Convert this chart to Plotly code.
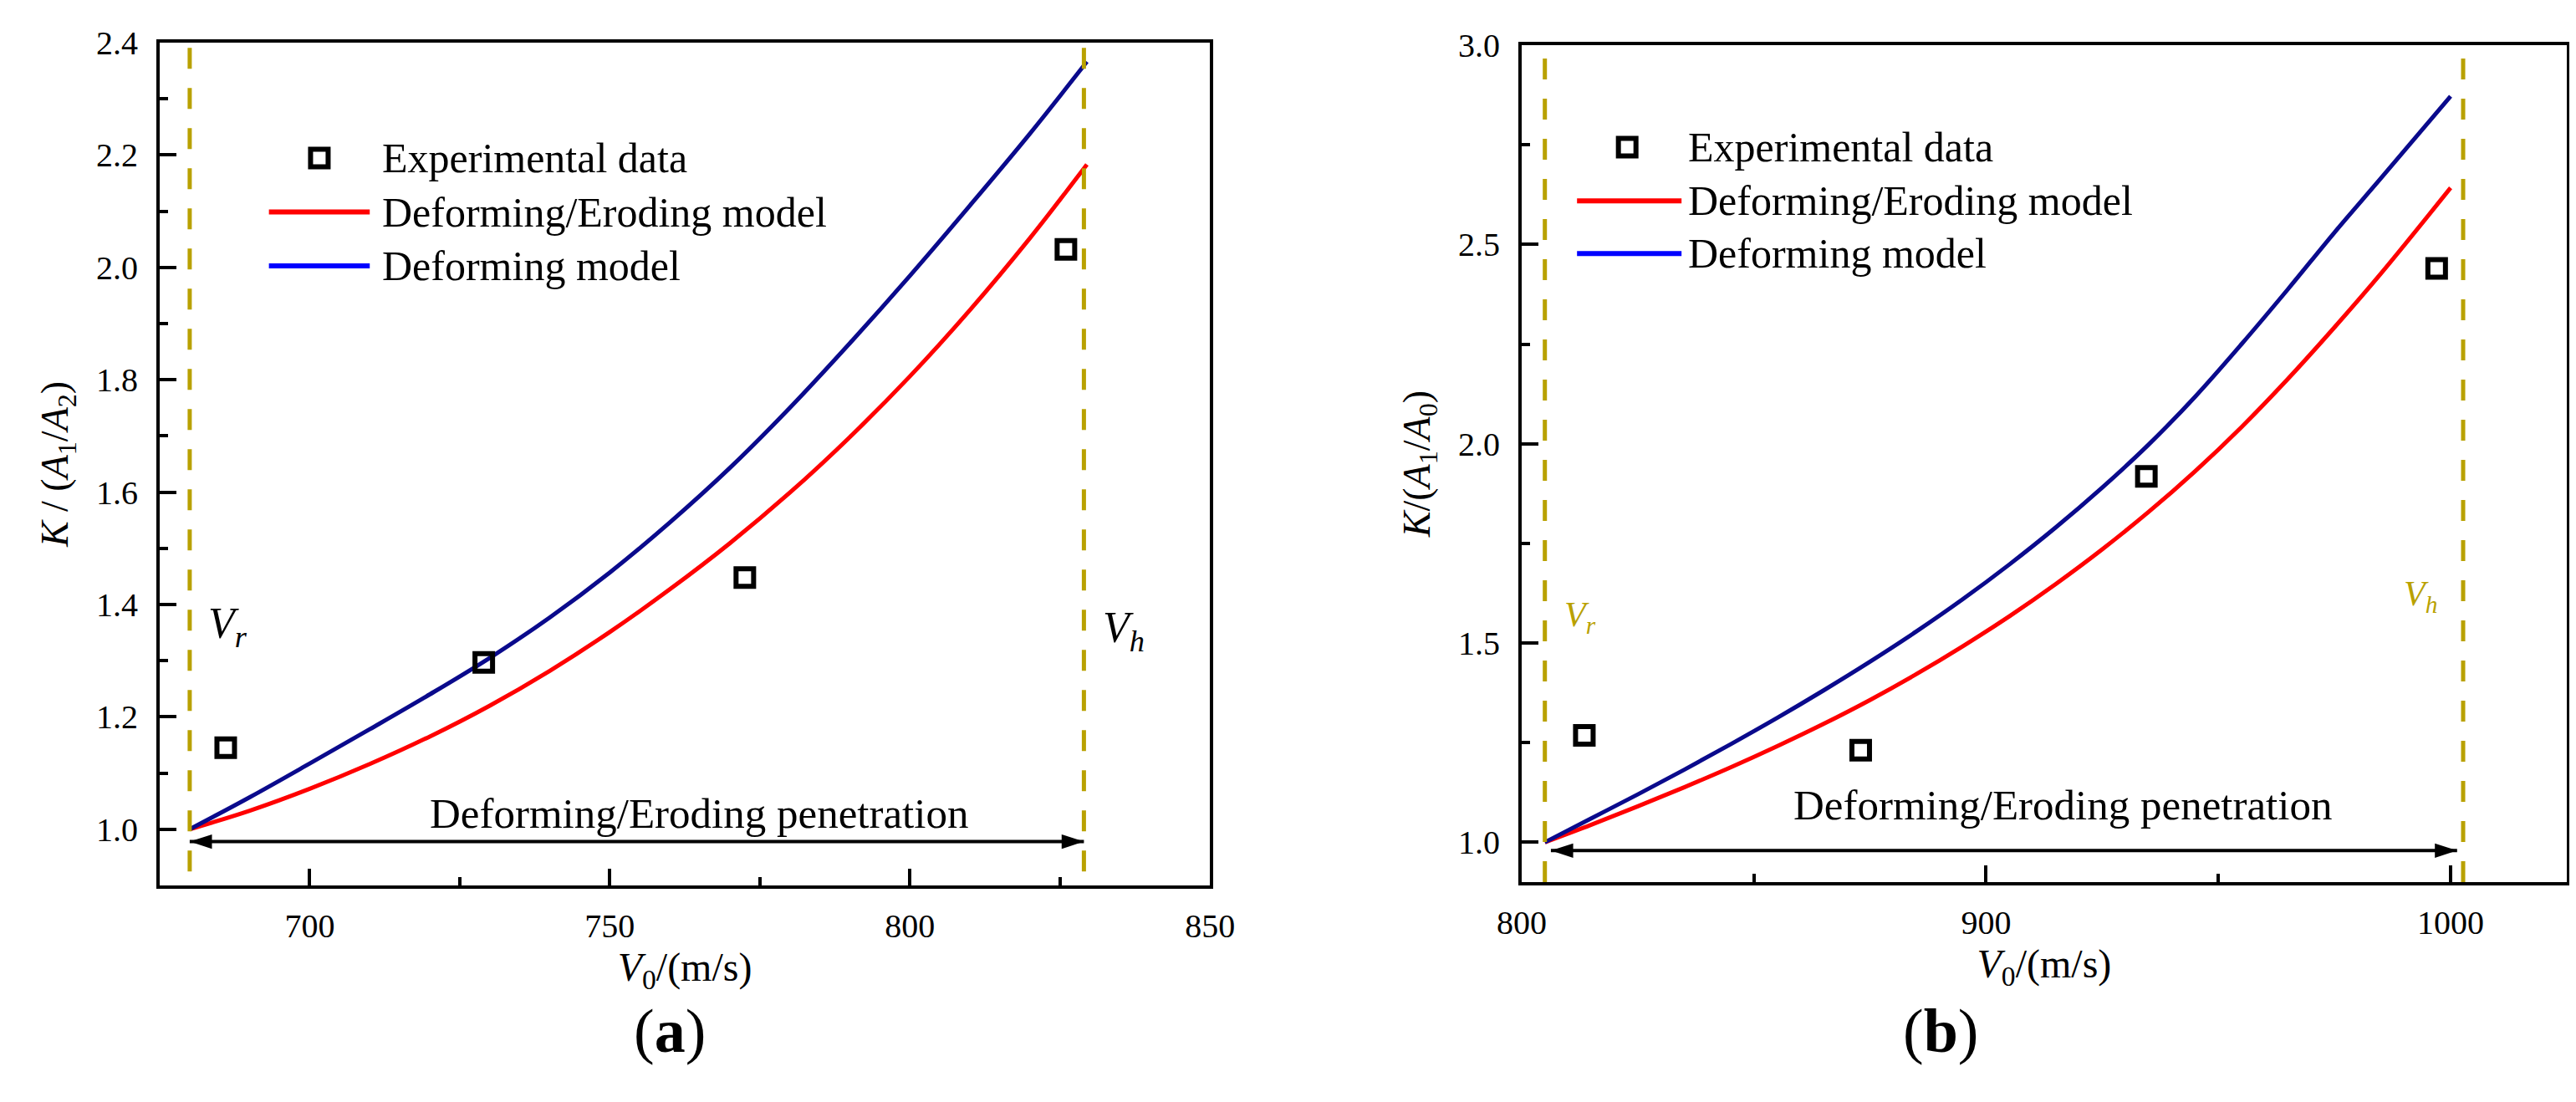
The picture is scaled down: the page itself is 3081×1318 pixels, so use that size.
import plotly.graph_objects as go

# ---------------- panel (a) ----------------
a_v = [680, 690, 700, 710, 720, 730, 740, 750, 760, 770, 780, 790, 800, 810, 820, 829.5]
a_deform = [1.000, 1.057, 1.117, 1.178, 1.240, 1.305, 1.377, 1.457, 1.546, 1.643,
            1.750, 1.865, 1.985, 2.110, 2.238, 2.366]
a_erode = [1.000, 1.033, 1.072, 1.116, 1.165, 1.220, 1.282, 1.351, 1.427, 1.509,
           1.599, 1.698, 1.806, 1.924, 2.052, 2.183]
a_exp_v = [686, 729, 772.5, 826]
a_exp_k = [1.145, 1.297, 1.448, 2.032]
a_vr, a_vh = 680, 829
a_arrow_v = [680, 829]
a_arrow_k = 0.978
a_xticks = [700, 750, 800, 850]
a_yticks = [1.0, 1.2, 1.4, 1.6, 1.8, 2.0, 2.2, 2.4]

# ---------------- panel (b) ----------------
b_v = [805, 815, 825, 835, 845, 855, 865, 875, 885, 895, 905, 915, 925, 935,
       945, 955, 965, 975, 985, 1000]
b_deform = [1.000, 1.060, 1.120, 1.182, 1.246, 1.312, 1.381, 1.453, 1.529, 1.610,
            1.697, 1.790, 1.890, 1.998, 2.118, 2.250, 2.388, 2.530, 2.666, 2.872]
b_erode = [1.000, 1.044, 1.090, 1.138, 1.188, 1.241, 1.297, 1.357, 1.422, 1.492,
           1.567, 1.648, 1.735, 1.829, 1.931, 2.042, 2.163, 2.292, 2.427, 2.642]
b_exp_v = [813.5, 873, 934.5, 997]
b_exp_k = [1.268, 1.231, 1.918, 2.440]
b_vr, b_vh = 805, 1002.7
b_arrow_v = [806.3, 1001.4]
b_arrow_k = 0.979
b_xticks = [800, 900, 1000]
b_yticks = [1.0, 1.5, 2.0, 2.5, 3.0]

legend_names = ["Experimental data", "Deforming/Eroding model", "Deforming model"]

FONT = "Liberation Serif"
OLIVE = "#B9A100"
NAVY = "#0A0A8C"
NBSP = "\u00a0"

fig = go.Figure()


def add_panel(xa, ya, v, deform, erode, exp_v, exp_k, arrow_v, arrow_k):
    fig.add_trace(go.Scatter(x=v, y=erode, mode="lines", line=dict(color="#FF0000", width=5, shape="spline"),
                             xaxis=xa, yaxis=ya, showlegend=False))
    fig.add_trace(go.Scatter(x=v, y=deform, mode="lines", line=dict(color=NAVY, width=5, shape="spline"),
                             xaxis=xa, yaxis=ya, showlegend=False))
    fig.add_trace(go.Scatter(x=exp_v, y=exp_k, mode="markers",
                             marker=dict(symbol="square-open", size=21, color="black", line=dict(width=6, color="black")),
                             xaxis=xa, yaxis=ya, showlegend=False))
    # double headed arrow
    fig.add_trace(go.Scatter(x=arrow_v, y=[arrow_k, arrow_k], mode="lines+markers",
                             line=dict(color="black", width=4),
                             marker=dict(symbol="arrow", size=28, color="black", angle=[-90, 90]),
                             xaxis=xa, yaxis=ya, showlegend=False))


add_panel("x", "y", a_v, a_deform, a_erode, a_exp_v, a_exp_k, a_arrow_v, a_arrow_k)
add_panel("x2", "y2", b_v, b_deform, b_erode, b_exp_v, b_exp_k, b_arrow_v, b_arrow_k)

shapes = []
for xr, yr, vals, ybot, ytop in [("x", "y", [a_vr, a_vh], 0.925, 2.4), ("x2", "y2", [b_vr, b_vh], 0.9, 3.0)]:
    for val in vals:
        shapes.append(dict(type="line", xref=xr, yref=yr, x0=val, x1=val, y0=ybot, y1=ytop,
                           line=dict(color=OLIVE, width=5, dash="25px,23px")))

annotations = []


def add_legend(xr, yr, sym_x, line_x0, line_x1, text_x, rows):
    xd, yd = xr + " domain", yr + " domain"
    shapes.append(dict(type="rect", xref=xd, yref=yd, xsizemode="pixel", ysizemode="pixel",
                       xanchor=sym_x, yanchor=rows[0], x0=-10.5, x1=10.5, y0=-10.5, y1=10.5,
                       line=dict(color="black", width=6), fillcolor="rgba(0,0,0,0)"))
    for r, col in zip(rows[1:], ["#FF0000", "#0000FF"]):
        shapes.append(dict(type="line", xref=xd, yref=yd, x0=line_x0, x1=line_x1, y0=r, y1=r,
                           line=dict(color=col, width=6)))
    for r, name in zip(rows, legend_names):
        annotations.append(dict(xref=xd, yref=yd, x=text_x, y=r, text=name, showarrow=False,
                                xanchor="left", yanchor="middle", font=dict(family=FONT, size=50, color="black")))


add_legend("x", "y", 0.152, 0.104, 0.200, 0.210, [0.863, 0.799, 0.735])
add_legend("x2", "y2", 0.101, 0.053, 0.153, 0.158, [0.878, 0.814, 0.751])

# region text and V labels
annotations += [
    dict(xref="x", yref="y", x=764.8, y=1.028, text="Deforming/Eroding penetration", showarrow=False,
         font=dict(family=FONT, size=51, color="black")),
    dict(xref="x2", yref="y2", x=916.4, y=1.094, text="Deforming/Eroding penetration", showarrow=False,
         font=dict(family=FONT, size=51, color="black")),
    dict(xref="x", yref="y", x=686.3, y=1.36, text="<i>V<sub>r</sub></i>", showarrow=False,
         font=dict(family=FONT, size=52, color="black")),
    dict(xref="x", yref="y", x=835.6, y=1.353, text="<i>V<sub>h</sub></i>", showarrow=False,
         font=dict(family=FONT, size=52, color="black")),
    dict(xref="x2", yref="y2", x=812.6, y=1.566, text="<i>V<sub>r</sub></i>", showarrow=False,
         font=dict(family=FONT, size=42, color=OLIVE)),
    dict(xref="x2", yref="y2", x=993.5, y=1.618, text="<i>V<sub>h</sub></i>", showarrow=False,
         font=dict(family=FONT, size=42, color=OLIVE)),
    dict(xref="paper", yref="paper", x=0.2428, y=0.038, text="(<b>a</b>)", showarrow=False,
         font=dict(family=FONT, size=74, color="black")),
    dict(xref="paper", yref="paper", x=0.766, y=0.038, text="(<b>b</b>)", showarrow=False,
         font=dict(family=FONT, size=74, color="black")),
]

tick_font = dict(family=FONT, size=40, color="black")
axis_style = dict(showline=True, linewidth=4, linecolor="black", mirror=True, ticks="inside",
                  ticklen=20, tickwidth=4, tickcolor="black", showgrid=False, zeroline=False,
                  automargin=False, tickfont=tick_font, tickmode="array")
xtitle = dict(text="<i>V</i><sub>0</sub>/(m/s)", font=dict(family=FONT, size=48, color="black"), standoff=8)

fig.update_layout(
    width=3081, height=1318,
    margin=dict(l=0, r=0, t=0, b=0),
    font=dict(family=FONT, size=40, color="black"),
    plot_bgcolor="white", paper_bgcolor="white",
    showlegend=False,
    xaxis=dict(domain=[0.0594, 0.4671], range=[675, 850], anchor="y",
               tickvals=a_xticks, ticktext=[str(t) for t in a_xticks],
               minor=dict(ticks="inside", ticklen=10, tickwidth=4, tickcolor="black", dtick=25, tick0=700),
               ticklabelstandoff=10, title=xtitle, **axis_style),
    yaxis=dict(domain=[0.2026, 0.9674], range=[0.9, 2.4], anchor="x",
               tickvals=a_yticks, ticktext=["%.1f" % t for t in a_yticks],
               minor=dict(ticks="inside", ticklen=10, tickwidth=4, tickcolor="black", dtick=0.1, tick0=1.0),
               ticklabelstandoff=14,
               title=dict(text=NBSP * 6 + "<i>K</i> / (<i>A</i><sub>1</sub>/<i>A</i><sub>2</sub>)",
                          font=dict(family=FONT, size=46, color="black"), standoff=20),
               **axis_style),
    xaxis2=dict(domain=[0.5881, 0.9938], range=[800, 1025], anchor="y2",
                tickvals=b_xticks, ticktext=[str(t) for t in b_xticks],
                minor=dict(ticks="inside", ticklen=10, tickwidth=4, tickcolor="black", dtick=50, tick0=800),
                ticklabelstandoff=10, title=xtitle, **axis_style),
    yaxis2=dict(domain=[0.2056, 0.9651], range=[0.9, 3.0], anchor="x2",
                tickvals=b_yticks, ticktext=["%.1f" % t for t in b_yticks],
                minor=dict(ticks="inside", ticklen=10, tickwidth=4, tickcolor="black", dtick=0.25, tick0=1.0),
                ticklabelstandoff=14,
                title=dict(text=NBSP * 2 + "<i>K</i>/(<i>A</i><sub>1</sub>/<i>A</i><sub>0</sub>)",
                           font=dict(family=FONT, size=46, color="black"), standoff=20),
                **axis_style),
    shapes=shapes,
    annotations=annotations,
)

fig.write_html("out.html")
